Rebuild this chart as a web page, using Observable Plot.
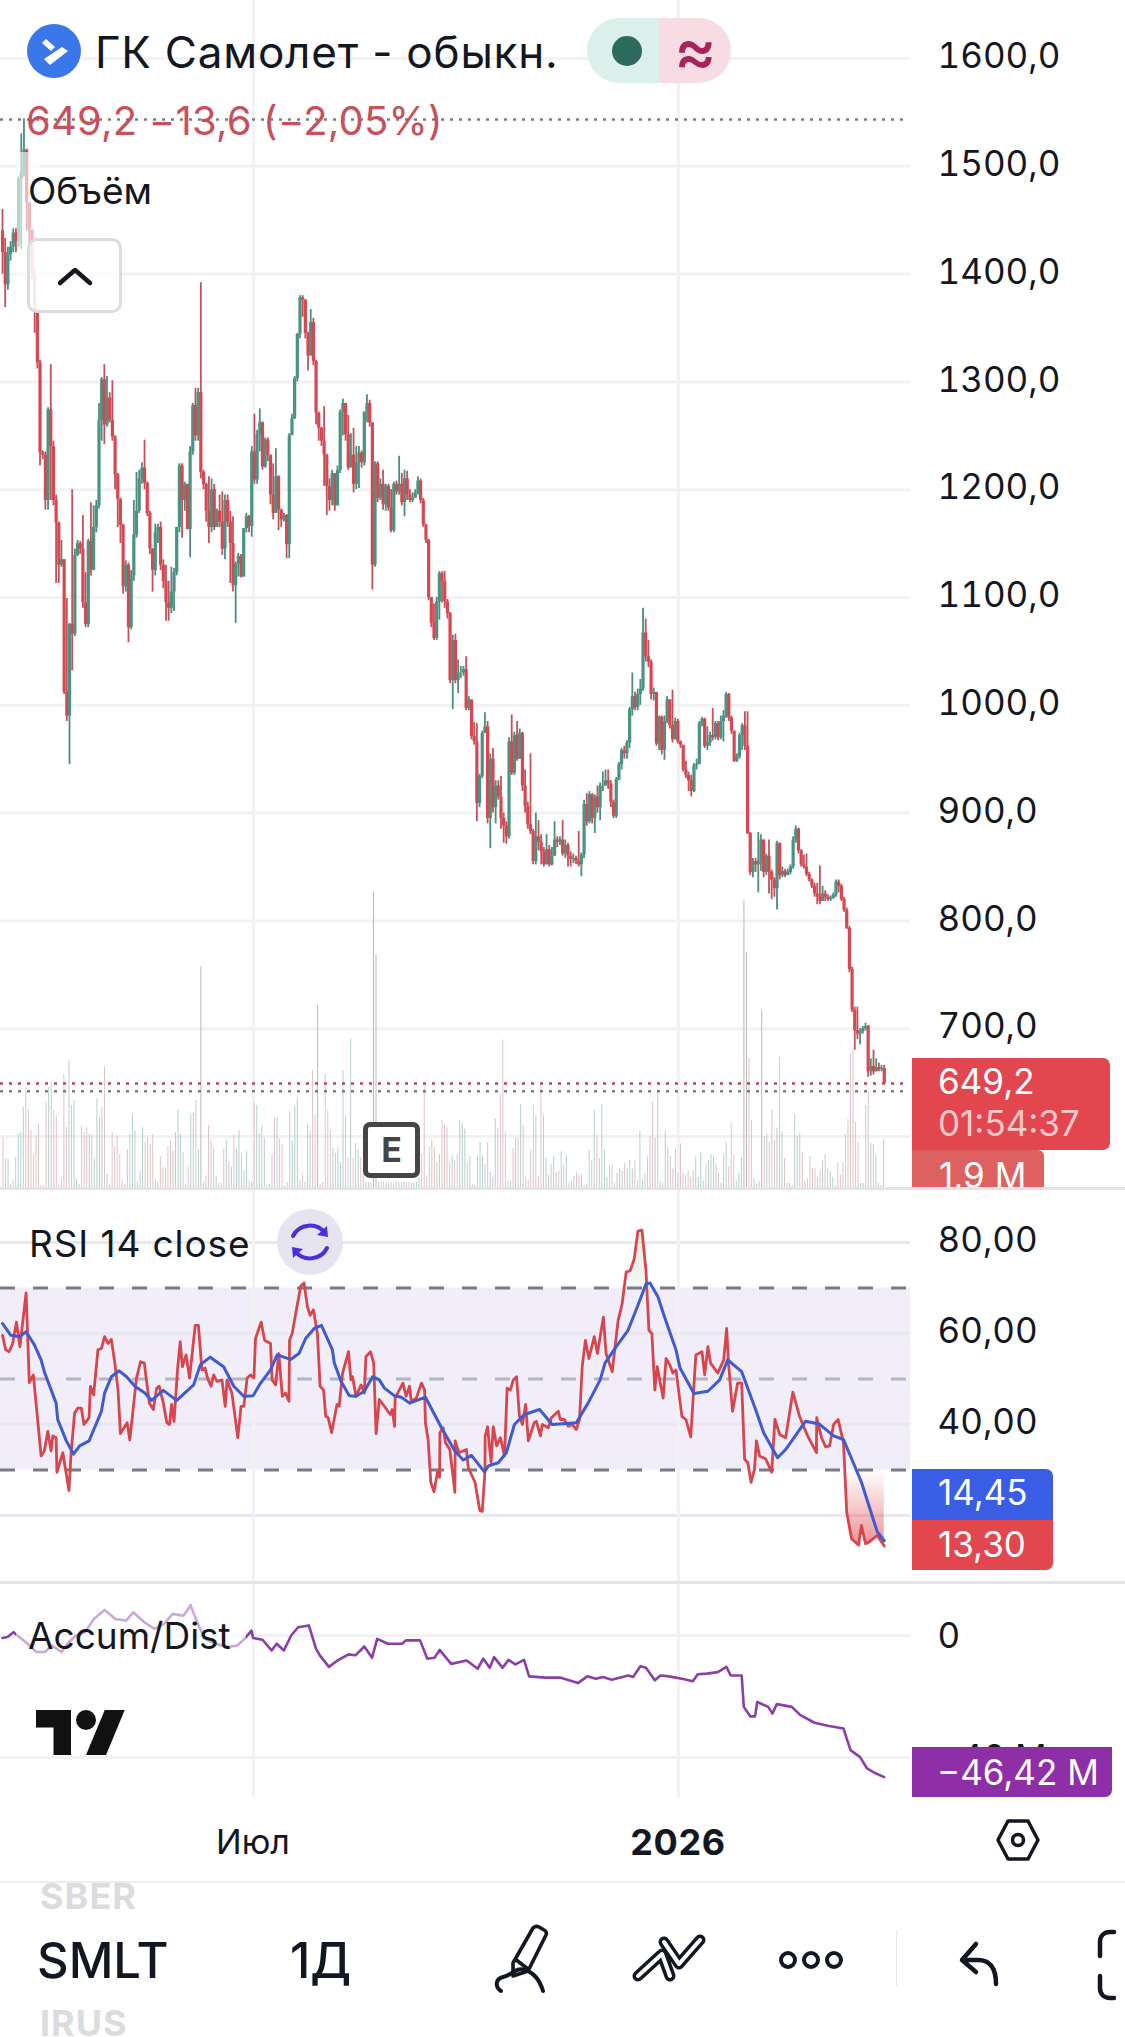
<!DOCTYPE html>
<html lang="ru"><head><meta charset="utf-8">
<script src="https://cdn.jsdelivr.net/npm/d3@7"></script>
<script src="https://cdn.jsdelivr.net/npm/@observablehq/plot@0.6"></script>
<style>
html,body{margin:0;padding:0;background:#fff;}
#page{position:relative;width:1125px;height:2037px;overflow:hidden;font-family:Inter,"Noto Sans",sans-serif;color:#131722;}
.t{position:absolute;white-space:nowrap;line-height:1;transform:translateY(-50%);}
.b{position:absolute;}
svg.i{position:absolute;overflow:visible;fill:none;stroke:#131722;stroke-linecap:round;stroke-linejoin:round;}
</style></head><body><div id="page"></div>
<script>
const firstOpen = 1440;
const closes = [
1420,1390,1418,1425,1438,1430,1488,1495,1515,1466,1441,1400,1365,1318,1234,1232,1190,1274,1240,1190,
1169,1130,1135,1012,990,1075,1066,1139,1150,1145,1095,1075,1152,1125,1165,1185,1264,1302,1260,1285,
1264,1249,1214,1191,1167,1110,1130,1072,1120,1158,1180,1210,1220,1206,1178,1145,1125,1160,1165,1130,
1115,1095,1090,1105,1123,1165,1222,1190,1205,1163,1235,1278,1250,1290,1216,1205,1180,1165,1200,1165,
1180,1170,1145,1190,1170,1150,1111,1131,1138,1119,1164,1175,1166,1235,1209,1251,1262,1221,1246,1232,
1195,1178,1212,1181,1172,1176,1149,1250,1266,1303,1344,1378,1376,1345,1324,1355,1319,1271,1257,1245,
1232,1203,1190,1215,1185,1218,1272,1280,1251,1220,1232,1205,1225,1234,1225,1272,1280,1262,1130,1224,
1192,1205,1186,1203,1183,1162,1205,1198,1205,1188,1210,1195,1190,1192,1197,1208,1190,1167,1153,1100,
1076,1062,1096,1122,1115,1096,1085,1023,1060,1023,1030,1030,1033,997,1005,971,966,909,934,974,
980,895,950,905,925,915,895,888,878,966,937,972,950,974,925,906,889,883,855,878,
873,864,852,866,852,860,875,873,875,862,870,860,857,858,855,852,861,908,892,917,
895,915,905,925,925,930,927,910,897,931,945,958,955,965,996,1008,998,1010,1015,1067,
1045,1040,1010,1012,964,989,958,985,1005,981,968,985,966,963,940,935,930,920,944,945,
983,987,962,965,972,970,983,970,985,990,1010,988,976,948,952,972,981,962,881,845,
855,852,855,875,845,860,845,838,830,872,842,846,842,845,850,875,885,865,852,850,
843,838,832,825,822,818,825,822,820,821,824,836,832,820,810,793,755,717,698,695,
697,700,702,660,665,660,664,662,663,649.2];
const highs = [
1460,1433,1425,1430,1442,1442,1490,1530,1544,1516,1466,1440,1405,1365,1320,1236,1235,1276,1316,1245,
1195,1170,1153,1135,1099,1076,1200,1145,1153,1152,1176,1123,1154,1188,1185,1190,1280,1304,1316,1305,
1290,1301,1250,1215,1192,1168,1134,1132,1125,1190,1216,1218,1225,1246,1207,1180,1145,1168,1168,1170,
1135,1130,1115,1128,1127,1165,1224,1224,1207,1205,1240,1280,1294,1294,1392,1218,1206,1212,1210,1205,
1182,1195,1198,1195,1195,1180,1175,1133,1141,1140,1164,1178,1176,1240,1270,1255,1275,1263,1248,1248,
1232,1224,1238,1213,1182,1178,1177,1252,1270,1305,1345,1380,1380,1376,1346,1367,1359,1320,1272,1258,
1277,1233,1210,1218,1210,1222,1274,1284,1280,1269,1252,1257,1240,1240,1236,1272,1288,1283,1262,1226,
1226,1210,1218,1205,1205,1200,1207,1208,1231,1215,1218,1217,1200,1197,1200,1212,1210,1192,1168,1154,
1096,1094,1100,1124,1124,1124,1098,1086,1065,1066,1042,1036,1036,1045,1008,1005,984,983,936,976,
993,985,955,960,930,930,934,900,892,970,991,975,985,978,975,940,910,955,885,900,
893,880,868,880,870,868,892,878,878,893,875,872,864,862,860,883,863,912,918,920,
918,917,925,928,938,940,940,930,912,933,947,960,962,967,998,1030,1012,1015,1024,1090,
1080,1060,1042,1016,1010,990,990,990,1008,1005,1014,988,987,967,960,948,938,935,946,950,
985,989,988,980,975,997,985,985,990,995,1012,1011,990,976,955,974,983,994,994,882,
858,858,882,880,875,862,875,847,840,874,872,850,848,848,852,878,888,886,866,861,
862,845,839,835,835,851,832,828,824,823,826,838,838,834,822,812,795,757,720,720,
700,702,705,703,672,680,672,668,666,666];
const lows = [
1400,1369,1385,1412,1420,1420,1425,1423,1490,1440,1425,1395,1345,1312,1222,1228,1181,1181,1190,1185,
1113,1113,1128,1010,985,945,1032,1064,1138,1140,1090,1072,1072,1120,1125,1160,1182,1245,1242,1258,
1262,1245,1200,1165,1150,1103,1105,1058,1070,1115,1155,1178,1205,1200,1175,1140,1105,1120,1150,1125,
1108,1078,1078,1085,1087,1120,1160,1155,1180,1163,1137,1232,1245,1245,1210,1200,1170,1150,1160,1162,
1172,1165,1139,1135,1165,1113,1105,1076,1119,1118,1119,1160,1160,1156,1205,1205,1235,1218,1220,1226,
1186,1172,1178,1162,1165,1170,1136,1136,1250,1265,1300,1340,1360,1340,1310,1324,1315,1260,1245,1240,
1203,1176,1180,1185,1180,1185,1215,1250,1245,1218,1225,1197,1200,1201,1220,1222,1262,1258,1107,1128,
1188,1190,1181,1180,1180,1160,1160,1195,1195,1185,1175,1190,1188,1188,1193,1195,1187,1165,1150,1097,
1072,1060,1060,1079,1095,1090,1080,1020,996,1020,1011,1025,1027,995,995,968,963,892,905,932,
974,890,867,900,890,912,885,872,871,876,935,935,948,950,920,900,885,880,852,852,
865,852,850,852,850,851,860,868,870,860,858,850,850,853,852,850,841,858,888,890,
890,881,900,893,920,925,922,905,895,895,930,940,950,950,960,990,995,995,1000,1013,
1040,1035,1005,1004,962,958,954,949,983,978,965,968,964,960,938,932,920,915,919,940,
945,980,960,958,962,967,968,967,968,966,988,985,973,947,947,950,958,958,880,842,
840,845,826,846,840,842,825,820,822,810,838,840,840,842,843,848,872,862,850,848,
841,836,830,822,815,815,822,818,818,818,820,822,826,818,808,792,752,715,680,690,
685,695,698,655,656,657,660,660,660,649];
const volumes = [
2.0,1.13,1.13,.13,.27,1.2,2.13,2.2,3.2,4.0,3.13,2.27,1.33,2.07,2.53,.07,.07,3.4,4.0,4.27,3.07,2.87,.13,.33,4.53,2.4,5.09,3.27,3.47,.33,
.13,2.43,2.2,2.4,2.13,2.07,1.13,3.53,2.8,3.2,4.83,.53,.13,2.2,1.63,2.07,1.33,.27,.13,1.53,2.13,2.93,2.27,.2,.67,2.4,1.8,2.0,1.73,2.13,
.33,.2,1.23,.8,.77,1.63,1.89,1.47,2.2,3.09,2.13,1.4,.13,.8,2.93,2.97,3.49,1.53,8.83,.2,.47,2.49,1.87,1.57,.47,.13,.16,1.53,1.89,1.0,
.8,2.09,1.53,2.29,1.31,.67,1.43,.24,.2,3.4,3.29,2.16,2.47,1.97,.07,.13,1.31,2.77,2.77,1.93,1.73,.07,.2,3.03,1.87,3.27,3.57,.27,.51,.2,
2.53,2.24,4.67,2.89,7.29,.13,.2,4.53,3.07,2.27,1.57,1.36,1.57,1.0,4.67,2.87,1.16,5.93,1.16,1.76,1.49,1.2,.53,.2,.2,.2,11.83,9.31,
.22,.2,.22,.18,.22,.2,.18,.22,.2,.18,.2,.22,.2,.18,.2,.22,.4,1.33,4.07,.47,1.6,1.89,1.6,1.0,1.33,2.67,2.51,2.4,1.0,1.27,
1.07,1.31,2.67,2.54,2.34,.98,1.23,.11,.08,1.26,1.8,1.26,.9,1.8,.6,.41,2.74,2.38,3.72,5.9,2.21,.25,.25,1.56,1.97,1.97,3.33,2.49,.44,.28,
1.48,3.25,2.87,.44,4.1,2.9,1.2,.49,.93,1.23,.6,.66,1.43,.9,1.26,.16,.25,.44,.6,.49,.49,.08,.11,1.48,1.07,3.07,2.08,1.15,3.31,1.51,
.41,.9,.9,.16,.57,.74,.66,.98,.74,1.1,.74,1.07,.28,2.26,.33,.57,1.23,2.05,3.44,1.97,3.9,.25,.16,2.26,1.59,1.23,.74,1.52,.57,1.75,
.57,.49,.66,.41,.66,1.23,.41,1.39,.25,.9,1.07,1.31,1.26,.9,.57,.16,1.31,1.8,.82,2.57,1.31,.25,.57,1.2,11.48,9.39,5.16,2.7,
.33,.16,.25,7.1,2.05,2.13,1.8,3.11,1.89,2.38,5.2,2.21,1.15,.16,.16,.08,2.92,2.05,2.18,1.39,.25,.33,1.23,.77,.74,.41,.7,1.07,1.31,.74,.62,.41,
.08,.98,.49,.98,2.13,2.74,5.33,5.49,2.62,1.8,.16,.16,3.28,3.85,1.77,1.72,1.31,.16,.08,1.92];
const rsiBars = [0,1.2,2.5,3.8,5.2,6.5,8.8,10,11.5,14.4,15.6,16.9,18.1,18.8,20,20.3,22.5,24.8,25.6,26.9,28.1,29.4,30.4,32.3,32.8,34,35.6,36.9,38.1,39.4,40.6,41.9,43.1,44,46.5,47.5,50,51.5,52.9,54.8,56.3,57.5,58.5,60,61.3,62.3,63.1,64,65.3,66.3,67.1,68.5,69.8,71.9,73.1,74.4,75.6,76.5,77.8,78.8,80,81.9,83.1,83.8,85.6,87.8,89,90,91.3,92.5,93.8,94.4,96.5,97.8,100,100.6,101.9,103.1,104.4,105.6,106.9,107.1,108.1,109.4,111.3,112.5,113.8,114.8,116,117.5,118.5,119.8,120.6,121.5,122.8,124.8,125.6,126.9,129.1,130,130.6,131.9,133.8,135,135.6,137.3,138.5,139.4,140.6,142.5,143.8,144.8,145.4,146.3,146.5,149.4,150.6,151.9,152.5,154.4,156.3,157.5,157.8,158.8,159.8,161,162.3,163.1,163.2,164.4,165.3,166.9,168.8,168.9,170.3,173.1,173.8,176.3,178.1,179,180,180.1,181,182.3,183.1,184.4,185.8,187.3,188.3,189.5,190.6,191.8,192.9,194,195.2,196.2,198.4,199.2,200.7,201.4,203.7,204.8,207.4,208.1,209.6,211.1,212.6,214.1,215.3,216.3,217.5,218.8,220.8,222,224.2,225.2,227.5,229.7,231.2,232.7,234.2,235.7,237.1,238.6,240.1,241.2,242.3,243.4,244.3,246.5,247.6,249,250.1,251.3,253.5,255,256.8,258.7,261,262,263.2,264.2,266.9,269.1,270.2,270.9,272.4,274.3,275.8,276.9,278.1,279.3,280.6,281.3,282.5,284.8,287,288.2,290,292.2,294.9,297.4,300.4,303.7,303.8,305.6,307.1,308.6,310.1,311.8,313.8,315,316.8,319.4,320.5,322,323.4,324.9,326.4,329];
const rsiValues = [59.6,56.4,56,57.8,62.5,57.1,68.9,49.2,50.9,33.1,34.2,38.5,34.2,37.5,37.1,29.5,33.8,25.5,33.8,42.5,43.6,43.6,40,41.5,48.4,46.5,56.4,56.7,59.3,57.8,58.7,53.5,47.6,38,40.4,36.6,50.2,53.8,53.5,44.7,43.3,48,48.4,44.7,40.4,40,44.4,40.7,52,58.2,52.7,55.3,50.2,61.8,61.8,52,52.4,50.2,48.4,50.9,49.5,49.8,44,49.8,46.9,37.1,44,44,50.2,50.9,50.2,58.9,62.5,58.5,57.8,49.8,48.7,55.6,46.2,46.9,45.1,58.5,60,64.4,70.5,71.1,65.8,64,65.2,60,48.4,47.6,41.8,41.5,38.2,44.4,44,51.3,56,49.8,50.5,46.2,48.7,46.9,54.9,56,53.5,38,45.5,44,42.9,42.2,43.3,39.6,45.8,49.1,46.2,48.4,45.1,45.8,49.1,47.6,40.4,36.7,27.3,25.2,29.5,28.4,38.2,39.3,36,34.5,25.1,36.4,33.8,34.5,30.5,27.3,21.1,20.9,29.5,37.5,39.5,31.6,39.5,35.3,37.1,33.1,48,47.6,49.8,50.5,41.8,40,44.4,36.4,40.4,40.7,37.5,40,39.3,41.5,42.9,41.1,41.1,39.6,40,38.9,41.1,52.7,58.5,54.5,59.3,55.6,63.6,55.6,51.6,62.9,66.5,73.5,73.8,76.4,82.5,82.7,73.8,60.7,60,47.6,52.7,45.8,54.5,53.1,51.3,52,41.8,41.1,37.3,55.3,56,50.9,57.1,53.5,51.3,54.2,61.1,53.5,42.9,49.1,49.1,32.4,31.6,27.3,30.2,36.4,33.1,32.4,29.5,41.1,37.8,37.1,47.1,41.8,37.5,33.8,41.5,37.1,35.1,35.3,40,41.1,36,20.7,14.9,13.5,17.8,13.8,14.2,14.9,15.6,13.3];
const maBars = [0,3.1,6.3,8.8,11.9,14.4,15.6,20,20.6,23.8,26.5,28.8,32.3,36.9,38.1,40.6,43.5,46.3,49.4,53.1,55.6,60,65,71.3,73.8,77.5,82.5,86.3,90,93.5,96.3,100,102.5,107.5,110.6,113.1,116.3,119,123.1,123.8,126.3,129.4,131.9,135,138.1,140.6,142.5,146.3,148.8,151.9,157.8,163.8,168.8,171.9,175,179.8,181.3,185,188,191,194.7,200.4,205.1,214.1,218.5,223,224.8,229,233.4,237.1,240.1,241.6,244.6,246.8,251.3,252.8,258,263.2,267.6,270.6,275.8,281,284,289.2,292.2,299.6,304.8,310.1,313.8,320.5,326.4,329];
const maValues = [62.2,59.6,59.3,60.4,57.5,54.2,51.6,44.7,41.1,36.4,33.5,35.3,36.4,42.9,46.9,50.5,51.8,50.5,48.4,46.9,45.3,47.5,45.3,48.7,53.1,54.8,52.7,48.4,46.2,46.3,49.1,52,55.3,54.3,55.6,58.9,61.1,61.8,56.4,53.5,49.5,46.3,46.2,47.3,50.5,49.8,48,46.3,46,44.7,46,39.3,34.2,32.2,33.2,29.6,30.9,31.6,33.8,40,42.2,43.3,40,40.4,44.7,49.8,53.5,57.1,60.7,66.2,70.9,71.1,68,64,56.4,52.4,46.8,47.3,49.8,54.2,51.6,43.3,38.2,32.7,34.5,40.7,40.1,37.5,36.7,27.3,16.4,14.45];
const adBars = [0,1.9,4.1,6.7,9.4,12.6,15.8,18.5,22,24.7,27.4,30.8,34.1,38.1,42.1,46.1,48.8,52.8,56.8,60.3,63.5,67.5,70.2,72.9,75.5,79.6,83.6,87.6,90.3,92.9,93.5,97,100.4,102.3,105,107.7,110.3,114.3,117,118.4,121.8,125,129.1,131.7,135,137.9,139.8,143.8,149.1,150.5,155.8,158.5,161.2,163.1,167.4,173.2,177.3,179.4,181.8,183.4,186.6,188.8,191.4,194.6,196.5,202.7,208,214.7,218.2,221.4,224.1,227.3,233.5,235.3,238,240.1,243.4,245.5,248.7,253.5,257.6,259.4,262.9,266.9,270.1,271.7,275.8,276.6,279,280.8,281.6,285.7,287.3,288.9,294.5,297.7,303,308.4,313.8,316.4,319.9,322.6,325.3,329];
const adValues = [-.8,-.5,1.1,-.8,-2.7,-5.4,-5.4,-3.3,-5.4,-2.2,0,1.1,5.4,8.4,5.4,4.9,7.6,4.4,2.2,3.8,7.1,6.5,9.8,3.8,-1.1,-2.7,-3.8,-3.3,-1.1,1.6,-.8,-1.4,-4.9,-2.7,-4.9,0,2.7,3.3,-4.4,-6.5,-10.3,-8.2,-6.2,-6.5,-3.6,-7.3,-1.1,-2.7,-2.7,-1.6,-1.6,-7.6,-7.3,-4.7,-9.3,-8.2,-10.9,-7.6,-10.6,-7.1,-10.6,-8,-9.5,-8,-13.4,-13.8,-13.8,-15.6,-13.4,-14.2,-13.6,-14.5,-13.1,-13.6,-10.1,-10.6,-14.7,-13.1,-13.4,-14.2,-15,-12.7,-12.5,-12,-10.3,-13.1,-13.1,-23.4,-26.5,-26.5,-21.8,-23.4,-25.6,-22.5,-23.4,-26.1,-28.6,-29.7,-30.5,-37.6,-39.8,-43.6,-45,-46.42];
const priceGrid = [1600,1500,1400,1300,1200,1100,1000,900,800,700,600];
const priceLabels = [1600,1500,1400,1300,1200,1100,1000,900,800,700];
const rsiGrid = [80,60,40,20];
const rsiLabels = [80,60,40];
const adTicks = [0,-40];
const monthBars = [93.7,252.2];
const lastPrice = 649.2, highLine = 1543.4, lowLine = 642;

const GREEN="#4a9282", RED="#d9464f", GREEN_WICK="#4c8d7e", RED_WICK="#c2525a", FONT='Inter,"Noto Sans",sans-serif', GRID="#f2f2f4", INK="#131722";
const W=1125, FR=215;
const page=document.getElementById("page");
const xScale={type:"linear",domain:[-0.75,338.8],range:[0,910],axis:null};
const comma=(v,d)=>v.toFixed(d).replace(".",",");
const place=(svg,top)=>{svg.style.position="absolute";svg.style.left="0";svg.style.top=top+"px";svg.style.background="transparent";svg.style.maxWidth="none";svg.style.height=svg.getAttribute("height")+"px";page.appendChild(svg);return svg;};
const base=(height,y,marks)=>Plot.plot({width:W,height,marginLeft:0,marginRight:FR,marginTop:0,marginBottom:0,
  x:xScale,y,color:{type:"identity"},style:{fontFamily:FONT},marks});
const axis=(ticks,fmt,dy)=>Plot.axisY(ticks,{anchor:"right",tickSize:0,tickPadding:27,fontSize:35,fill:INK,tickFormat:fmt,label:null,dy});

const bars=closes.map((c,i)=>({i,o:i?closes[i-1]:firstOpen,c,h:highs[i],l:lows[i]}));
const up=d=>d.c>=d.o;
const priceY={domain:[1600,600],range:[58,1136]};

// price grid + axis
place(base(1188,priceY,[
  Plot.gridY(priceGrid,{stroke:GRID,strokeWidth:3,strokeOpacity:1}),
  Plot.gridX(monthBars,{stroke:GRID,strokeWidth:3,strokeOpacity:1}),
  axis(priceLabels,d=>comma(d,1),-1.5)
]),0);

// volumes
const vStep=880.5/(volumes.length-1);
place(Plot.plot({width:W,height:1187,marginLeft:0,marginRight:FR,marginTop:0,marginBottom:0,
  x:{type:"linear",domain:[0,volumes.length-1],range:[2.5,883],axis:null},
  y:{domain:[0,12],range:[1187,887],axis:null},color:{type:"identity"},
  marks:[Plot.ruleX(volumes,{x:(d,i)=>i,y1:0,y2:d=>d,strokeWidth:1,
    stroke:(d,i)=>{const b=bars[Math.min(329,Math.round(i*vStep/2.68))];return d>6?"#bfb5b8":(up(b)?"#b3d1cd":"#e2c3c6");}})]
}),0);

// candles + dotted lines
place(base(1188,{...priceY,axis:null},[
  Plot.ruleY([highLine,lowLine],{x1:-0.75,x2:336.2,stroke:"#7b7d85",strokeWidth:2.6,strokeDasharray:"3 6"}),
  Plot.ruleY([lastPrice],{x1:-0.75,x2:336.2,stroke:"#b5455a",strokeWidth:2.6,strokeDasharray:"3 6"}),
  Plot.ruleX(bars,{x:"i",y1:"l",y2:"h",stroke:d=>up(d)?GREEN_WICK:RED_WICK,strokeWidth:1.8}),
  Plot.ruleX(bars,{x:"i",y1:"o",y2:"c",stroke:d=>up(d)?GREEN:RED,strokeWidth:3.2})
]),0);

// RSI
const rsi=rsiBars.map((b,k)=>({b,v:rsiValues[k]}));
const ma=maBars.map((b,k)=>({b,v:maValues[k]}));
const rsiY={domain:[80,20],range:[52,325]};
const rsiSvg=place(base(393,rsiY,[
  Plot.rect([[30,70]],{x1:-1,x2:338.8,y1:d=>d[0],y2:d=>d[1],fill:"#f1eef9"}),
  Plot.gridY(rsiGrid,{stroke:"#e9e7ef",strokeWidth:3,strokeOpacity:1}),
  Plot.gridX(monthBars,{stroke:GRID,strokeWidth:3,strokeOpacity:1}),
  Plot.ruleY([70,30],{stroke:"#787b86",strokeWidth:3,strokeDasharray:"15 18"}),
  Plot.ruleY([50],{stroke:"#b6b6c0",strokeWidth:3,strokeDasharray:"15 18"}),
  Plot.areaY(rsi.filter(d=>d.b>=315),{x:"b",y1:30,y2:"v",fill:"url(#rsiLow)"}),
  Plot.areaY(rsi.filter(d=>d.b>=233&&d.b<=240.1),{x:"b",y1:70,y2:"v",fill:"url(#rsiHigh)"}),
  Plot.line(rsi,{x:"b",y:"v",stroke:"#d9454d",strokeWidth:2.8}),
  Plot.line(ma,{x:"b",y:"v",stroke:"#3f5bcf",strokeWidth:3}),
  axis(rsiLabels,d=>comma(d,2),-2)
]),1190);
rsiSvg.insertAdjacentHTML("afterbegin",'<defs><linearGradient id="rsiLow" x1="0" y1="0" x2="0" y2="1"><stop offset="0" stop-color="#e2474f" stop-opacity="0"/><stop offset="1" stop-color="#e2474f" stop-opacity=".6"/></linearGradient><linearGradient id="rsiHigh" x1="0" y1="1" x2="0" y2="0"><stop offset="0" stop-color="#8fbf9f" stop-opacity=".1"/><stop offset="1" stop-color="#d8c89a" stop-opacity=".35"/></linearGradient></defs>');

// Accum/Dist
const ad=adBars.map((b,k)=>({b,v:adValues[k]}));
place(base(214,{domain:[0,-40],range:[52,174]},[
  Plot.gridY(adTicks,{stroke:GRID,strokeWidth:3,strokeOpacity:1}),
  Plot.gridX(monthBars,{stroke:GRID,strokeWidth:3,strokeOpacity:1}),
  Plot.line(ad,{x:"b",y:"v",stroke:"#8b3fa6",strokeWidth:2.6}),
  axis(adTicks,d=>d===0?"0":"\u2212"+Math.abs(d)+" M",1)
]),1583);

// overlays and chrome
const box=(l,t,w,h,css)=>{const d=document.createElement("div");d.className="b";d.style.cssText=`left:${l}px;top:${t}px;width:${w}px;height:${h}px;${css||""}`;page.appendChild(d);return d;};
const text=(s,l,cy,size,css)=>{const d=document.createElement("div");d.className="t";d.textContent=s;d.style.cssText=`left:${l}px;top:${cy}px;font-size:${size}px;${css||""}`;page.appendChild(d);return d;};
const icon=(l,t,w,h,vb,body,css)=>{page.insertAdjacentHTML("beforeend",`<svg class="i" style="left:${l}px;top:${t}px;${css||""}" width="${w}" height="${h}" viewBox="${vb}">${body}</svg>`);};

box(17,152,24,160,"background:rgba(255,255,255,.6)");
box(16,1605,230,60,"background:rgba(255,255,255,.55)");

// header
icon(27,24,54,54,"0 0 54 54",'<circle cx="27" cy="27" r="27" fill="#3a78ea" stroke="none"/><path d="M19 15l9 8 -4 4 -9 -8zM35 23l6 4 -18 14 -6 -6z" fill="#fff" stroke="none"/>');
text("ГК Самолет - обыкн.",95,52,44,"font-weight:400;letter-spacing:.8px");
box(587,18,144,65,"border-radius:33px;background:linear-gradient(90deg,#dbefeb 0 50%,#f8dce4 50% 100%)");
box(612,36,30,30,"border-radius:50%;background:#2a6b5c");
text("≈",674,50,64,"color:#a8235a;font-weight:500");
text("649,2 \u221213,6 (\u22122,05%)",26,121,40,"color:#c9505a;letter-spacing:.2px");
text("Объём",28,190,37);
box(27,238,95,75,"box-sizing:border-box;border:3px solid #dcdcdf;border-radius:10px;background:rgba(255,255,255,.7)");
icon(58,266,34,20,"0 0 34 20",'<path d="M2 17L17 4l15 13" stroke-width="4.5"/>');

// price tags
box(912,1058,198,92,"background:#e2474f;border-radius:0 7px 7px 0");
text("649,2",938,1081,35,"color:#fff");
text("01:54:37",938,1123,35,"color:#f8c9cb");
const volTag=box(912,1150,132,38,"background:#de6161;border-radius:0 6px 0 0;overflow:hidden");
volTag.innerHTML='<div style="position:absolute;left:27px;top:8px;color:#fff;font-size:35px;line-height:1;white-space:nowrap">1,9 M</div>';

box(0,1187,1125,3,"background:#e3e4e8");
box(0,1581,1125,3,"background:#e3e4e8");

// E marker
box(363,1122,57,56,"box-sizing:border-box;border:5px solid #454545;border-radius:7px;background:#fff");
text("E",391.5,1150,34,"font-weight:700;color:#454545;transform:translate(-50%,-50%)");

// RSI legend
text("RSI 14 close",29,1243,37,"letter-spacing:.9px");
box(277,1209,66,66,"border-radius:50%;background:#e7e4f2");
icon(287,1220,46,44,"0 0 46 44",'<path d="M6 16a19 19 0 0 1 32 -3M40 28a19 19 0 0 1 -32 3" stroke="#4b2fdc" stroke-width="4"/><path d="M30 15l11 2 -1 -11zM16 29l-11 -2 1 11z" fill="#4b2fdc" stroke="none"/>');
box(912,1469,141,51,"background:#3a5de6;border-radius:0 7px 0 0");
text("14,45",938,1492,35,"color:#fff");
box(912,1520,141,50,"background:#e2474f;border-radius:0 0 7px 0");
text("13,30",938,1544,35,"color:#fff");

// A/D legend
text("Accum/Dist",28,1635,37);
icon(36,1710,90,45,"0 4 36 18",'<path d="M14 22H7V11H0V4h14v18zM28 22h-8l7.5-18h8L28 22z" fill="#111" stroke="none"/><circle cx="20" cy="8" r="4" fill="#111" stroke="none"/>');
box(912,1747,200,50,"background:#8e2fa8;border-radius:0 0 7px 0");
text("\u221246,42 M",937,1772,35,"color:#fff");

// time axis
text("Июл",253,1842,34,"transform:translate(-50%,-50%)");
text("2026",678,1842,36,"font-weight:700;letter-spacing:.6px;transform:translate(-50%,-50%)");
icon(996,1818,44,44,"0 0 44 44",'<path d="M12 3h20l10 19 -10 19H12L2 22z" stroke-width="3.5"/><circle cx="22" cy="22" r="5.5" stroke-width="3.5"/>');
box(0,1881,1125,2,"background:#eeeef0");

// toolbar
text("SBER",40,1896,36,"color:#dcdcdf;font-weight:700;letter-spacing:1px");
text("SMLT",37,1960,49,"font-weight:500");
text("1Д",290,1960,49,"font-weight:500");
text("IRUS",40,2023,36,"color:#dcdcdf;font-weight:700;letter-spacing:1px");
icon(495,1925,62,68,"0 0 62 68",'<path d="M18 38L38 3c2 -2 4 -2 6 -1l5 3c2 1 3 3 2 5L33 46l-15 5zM20 34l13 10" stroke-width="3.6"/><path d="M6 66c-6 -4 -6 -12 2 -14 10 -2 12 -10 22 -7 10 3 15 11 18 21" stroke-width="4"/>');
icon(632,1936,74,46,"0 0 74 46",'<path d="M6 40L30 18L38 40M32 6L47 28L68 4" stroke-width="11"/><path d="M6 40L30 18L38 40M32 6L47 28L68 4" stroke="#fff" stroke-width="4"/>');
icon(778,1948,68,24,"0 0 68 24",'<circle cx="10" cy="12" r="7" stroke-width="4"/><circle cx="33" cy="12" r="7" stroke-width="4"/><circle cx="56" cy="12" r="7" stroke-width="4"/>');
box(896,1930,1,56,"background:#e6e6e8");
icon(958,1940,44,50,"0 0 44 50",'<path d="M18 4L4 20l14 12M4 20h16c12 0 18 8 18 24" stroke-width="4.5"/>');
icon(1096,1930,20,70,"0 0 20 70",'<path d="M18 2h-4c-6 0 -10 4 -10 10v14M18 68h-4c-6 0 -10 -4 -10 -10V46" stroke-width="4.5"/>');
</script></body></html>
